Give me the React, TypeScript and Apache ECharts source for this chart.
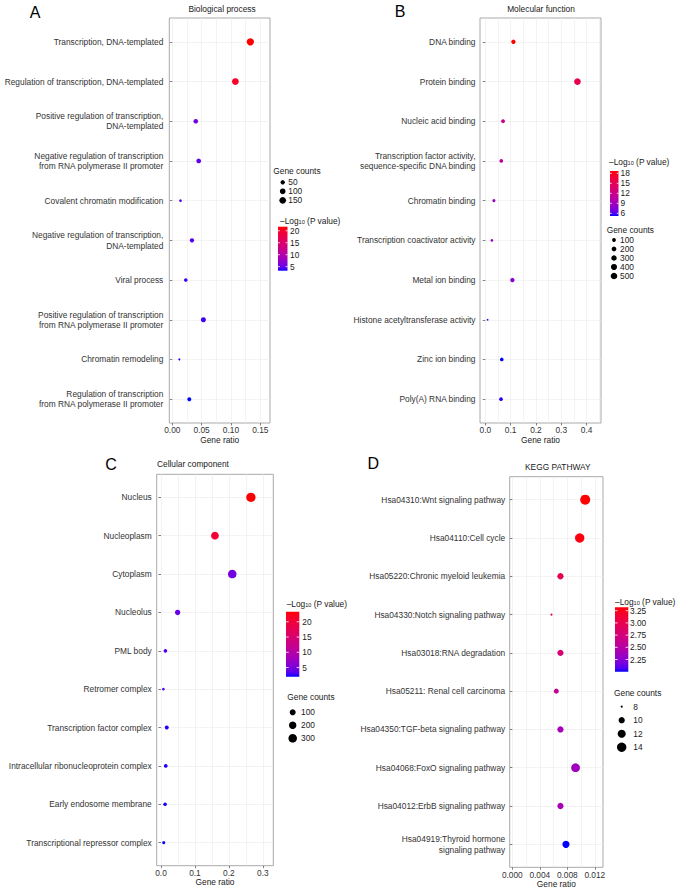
import React, { useEffect, useRef } from 'react';
import * as echarts from 'echarts';

const FONT = "'Liberation Sans', Arial, Helvetica, sans-serif";
const FS = 8.35;

// ---------- Panel A: Biological process ----------
const bpTerms = [
  'Transcription, DNA-templated',
  'Regulation of transcription, DNA-templated',
  'Positive regulation of transcription,\nDNA-templated',
  'Negative regulation of transcription\nfrom RNA polymerase II promoter',
  'Covalent chromatin modification',
  'Negative regulation of transcription,\nDNA-templated',
  'Viral process',
  'Positive regulation of transcription\nfrom RNA polymerase II promoter',
  'Chromatin remodeling',
  'Regulation of transcription\nfrom RNA polymerase II promoter',
];
const bpRatio = [0.133, 0.1075, 0.04, 0.045, 0.014, 0.0335, 0.023, 0.053, 0.012, 0.029];
const bpCount = [189, 153, 57, 64, 20, 48, 33, 75, 17, 41];
const bpLogP = [21.7, 19.9, 5.6, 4.9, 4.7, 4.4, 4.0, 4.0, 4.0, 3.3];
const bpTicks = [0, 0.05, 0.1, 0.15];
const bpMinor = [0.025, 0.075, 0.125];
const bpSizeBreaks = [50, 100, 150];
const bpColorBreaks = [20, 15, 10, 5];

// ---------- Panel B: Molecular function ----------
const mfTerms = [
  'DNA binding',
  'Protein binding',
  'Nucleic acid binding',
  'Transcription factor activity,\nsequence-specific DNA binding',
  'Chromatin binding',
  'Transcription coactivator activity',
  'Metal ion binding',
  'Histone acetyltransferase activity',
  'Zinc ion binding',
  'Poly(A) RNA binding',
];
const mfRatio = [0.111, 0.364, 0.07, 0.063, 0.034, 0.026, 0.107, 0.009, 0.065, 0.062];
const mfCount = [157, 517, 99, 89, 48, 37, 152, 13, 92, 88];
const mfLogP = [18.7, 15.3, 11.9, 10.6, 8.7, 8.6, 7.6, 5.6, 5.2, 5.35];
const mfTicks = [0, 0.1, 0.2, 0.3, 0.4];
const mfMinor = [0.05, 0.15, 0.25, 0.35, 0.45];
const mfSizeBreaks = [100, 200, 300, 400, 500];
const mfColorBreaks = [18, 15, 12, 9, 6];

// ---------- Panel C: Cellular component ----------
const ccTerms = [
  'Nucleus',
  'Nucleoplasm',
  'Cytoplasm',
  'Nucleolus',
  'PML body',
  'Retromer complex',
  'Transcription factor complex',
  'Intracellular ribonucleoprotein complex',
  'Early endosome membrane',
  'Transcriptional repressor complex',
];
const ccRatio = [0.265, 0.159, 0.21, 0.049, 0.013, 0.007, 0.017, 0.014, 0.012, 0.008];
const ccCount = [376, 226, 298, 70, 18, 10, 24, 20, 17, 11];
const ccLogP = [23.3, 20.1, 4.6, 4.1, 3.5, 3.3, 2.2, 2.2, 2.15, 2.0];
const ccTicks = [0, 0.1, 0.2, 0.3];
const ccMinor = [0.05, 0.15, 0.25];
const ccSizeBreaks = [100, 200, 300];
const ccColorBreaks = [20, 15, 10, 5];

// ---------- Panel D: KEGG pathway ----------
const kgTerms = [
  'Hsa04310:Wnt signaling pathway',
  'Hsa04110:Cell cycle',
  'Hsa05220:Chronic myeloid leukemia',
  'Hsa04330:Notch signaling pathway',
  'Hsa03018:RNA degradation',
  'Hsa05211: Renal cell carcinoma',
  'Hsa04350:TGF-beta signaling pathway',
  'Hsa04068:FoxO signaling pathway',
  'Hsa04012:ErbB signaling pathway',
  'Hsa04919:Thyroid hormone\nsignaling pathway',
];
const kgRatio = [0.0106, 0.0098, 0.007, 0.0057, 0.007, 0.0064, 0.007, 0.0092, 0.007, 0.0078];
const kgCount = [15, 14, 10, 8, 10, 9, 10, 13, 10, 11];
const kgLogP = [3.32, 3.28, 2.95, 2.9, 2.79, 2.6, 2.4, 2.36, 2.4, 2.0];
const kgTicks = [0, 0.004, 0.008, 0.012];
const kgMinor = [0.002, 0.006, 0.01];
const kgSizeBreaks = [8, 10, 12, 14];
const kgColorBreaks = [3.25, 3.0, 2.75, 2.5, 2.25];

// ---------- colour: Lab interpolation blue -> red (like ggplot) ----------
function toLin(c: number) { c /= 255; return c <= 0.04045 ? c / 12.92 : Math.pow((c + 0.055) / 1.055, 2.4); }
function fromLin(c: number) {
  const v = c <= 0.0031308 ? 12.92 * c : 1.055 * Math.pow(c, 1 / 2.4) - 0.055;
  return Math.round(Math.max(0, Math.min(1, v)) * 255);
}
function rgbToLab(rgb: number[]) {
  const R = toLin(rgb[0]), G = toLin(rgb[1]), B = toLin(rgb[2]);
  const X = (0.4124564 * R + 0.3575761 * G + 0.1804375 * B) / 0.95047;
  const Y = 0.2126729 * R + 0.7151522 * G + 0.072175 * B;
  const Z = (0.0193339 * R + 0.119192 * G + 0.9503041 * B) / 1.08883;
  const f = (t: number) => (t > 0.008856 ? Math.cbrt(t) : 7.787 * t + 16 / 116);
  return [116 * f(Y) - 16, 500 * (f(X) - f(Y)), 200 * (f(Y) - f(Z))];
}
function labToRgb(lab: number[]) {
  const fy = (lab[0] + 16) / 116, fx = fy + lab[1] / 500, fz = fy - lab[2] / 200;
  const inv = (t: number) => (t * t * t > 0.008856 ? t * t * t : (t - 16 / 116) / 7.787);
  const X = inv(fx) * 0.95047, Y = inv(fy), Z = inv(fz) * 1.08883;
  const R = 3.2404542 * X - 1.5371385 * Y - 0.4985314 * Z;
  const G = -0.969266 * X + 1.8760108 * Y + 0.041556 * Z;
  const B = 0.0556434 * X - 0.2040259 * Y + 1.0572252 * Z;
  return `rgb(${fromLin(R)},${fromLin(G)},${fromLin(B)})`;
}
const LAB_LOW = rgbToLab([0, 0, 255]);
const LAB_HIGH = rgbToLab([255, 0, 0]);
function gradColor(t: number) {
  t = Math.max(0, Math.min(1, t));
  return labToRgb([0, 1, 2].map((k) => LAB_LOW[k] + (LAB_HIGH[k] - LAB_LOW[k]) * t));
}

const panels = [
  {
    terms: bpTerms, ratio: bpRatio, count: bpCount, logp: bpLogP, ticks: bpTicks, minor: bpMinor,
    sizeBreaks: bpSizeBreaks, colorBreaks: bpColorBreaks, xDec: 2, cDec: 0,
    title: 'Biological process', letter: 'A',
    L: {
      left: 169.3, top: 18, width: 100.7, height: 405, xMin: -0.0051, xMax: 0.1665, labelMargin: 6,
      titleX: 222, titleY: 9, titleAlign: 'center', letterX: 35, letterY: 12,
      rmin: 2, rmax: 7.3,
      size: { tx: 273.3, ty: 171, dx: 282.7, y0: 182.3, step: 9, lx: 288.3 },
      col: { tx: 280, ty: 219.3, bx: 278, bw: 9.5, bt: 226.7, bb: 270.7, lx: 290 },
    },
  },
  {
    terms: mfTerms, ratio: mfRatio, count: mfCount, logp: mfLogP, ticks: mfTicks, minor: mfMinor,
    sizeBreaks: mfSizeBreaks, colorBreaks: mfColorBreaks, xDec: 1, cDec: 0,
    title: 'Molecular function', letter: 'B',
    L: {
      left: 480, top: 18, width: 121, height: 405, xMin: -0.021, xMax: 0.457, labelMargin: 4.5,
      titleX: 541, titleY: 9, titleAlign: 'center', letterX: 400, letterY: 11,
      rmin: 1.7, rmax: 6.7,
      size: { tx: 606.7, ty: 230, dx: 614, y0: 240, step: 9, lx: 620 },
      col: { tx: 609, ty: 160.7, bx: 610, bw: 8.5, bt: 171, bb: 216, lx: 620.5 },
    },
  },
  {
    terms: ccTerms, ratio: ccRatio, count: ccCount, logp: ccLogP, ticks: ccTicks, minor: ccMinor,
    sizeBreaks: ccSizeBreaks, colorBreaks: ccColorBreaks, xDec: 1, cDec: 0,
    title: 'Cellular component', letter: 'C',
    L: {
      left: 156.7, top: 474.3, width: 116.6, height: 391.4, xMin: -0.0127, xMax: 0.331, labelMargin: 5,
      titleX: 157, titleY: 464.3, titleAlign: 'left', letterX: 111, letterY: 464,
      rmin: 2.7, rmax: 9.3,
      size: { tx: 287.3, ty: 697, dx: 292.7, y0: 712.3, step: 13, lx: 301 },
      col: { tx: 286.7, ty: 602.3, bx: 286, bw: 13.3, bt: 611.7, bb: 676.7, lx: 302.3 },
    },
  },
  {
    terms: kgTerms, ratio: kgRatio, count: kgCount, logp: kgLogP, ticks: kgTicks, minor: kgMinor,
    sizeBreaks: kgSizeBreaks, colorBreaks: kgColorBreaks, xDec: 3, cDec: 2,
    title: 'KEGG PATHWAY', letter: 'D',
    L: {
      left: 509.7, top: 476.7, width: 93.3, height: 390.6, xMin: -0.00038, xMax: 0.01319, labelMargin: 4.5,
      titleX: 557.8, titleY: 467.3, titleAlign: 'center', letterX: 373.3, letterY: 463,
      rmin: 2, rmax: 10,
      size: { tx: 614, ty: 693.3, dx: 621.7, y0: 706.7, step: 13.5, lx: 633.3 },
      col: { tx: 615, ty: 600, bx: 615, bw: 13.3, bt: 607.3, bb: 671.7, lx: 630 },
    },
  },
];

function txt(x: number, y: number, text: string, align: string, size = FS, color = '#1a1a1a') {
  return {
    type: 'text', x, y, silent: true,
    style: {
      text, fill: color, font: `${size}px ${FONT}`, fontSize: size, fontFamily: FONT,
      textAlign: align, align, textVerticalAlign: 'middle', verticalAlign: 'middle',
    },
  };
}

function buildOption() {
  const grid: any[] = [];
  const xAxis: any[] = [];
  const yAxis: any[] = [];
  const series: any[] = [];
  const graphic: any[] = [];
  const gridLine = { color: '#ebebeb', width: 0.6 };
  const tickStyle = { color: '#4d4d4d', width: 0.7 };

  panels.forEach((p, gi) => {
    const L = p.L;
    const n = p.terms.length;
    const idx = p.terms.map((_, i) => i);
    const cmin = Math.min(...p.count), cmax = Math.max(...p.count);
    const sz = (c: number) => L.rmin + (L.rmax - L.rmin) * Math.sqrt(Math.max(0, (c - cmin) / (cmax - cmin)));
    const vmin = Math.min(...p.logp), vmax = Math.max(...p.logp);
    const col = (v: number) => gradColor((v - vmin) / (vmax - vmin));

    grid.push({
      left: L.left, top: L.top, width: L.width, height: L.height,
      show: true, borderColor: '#a9a9a9', borderWidth: 1, backgroundColor: '#fff',
      containLabel: false, outerBoundsMode: 'none',
    });
    // gridline axis (major + minor vertical lines)
    xAxis.push({
      type: 'value', gridIndex: gi, position: 'top', min: L.xMin, max: L.xMax,
      axisLine: { show: false },
      axisTick: { show: false, customValues: [...p.ticks, ...p.minor] },
      axisLabel: { show: false, customValues: [...p.ticks, ...p.minor] },
      splitLine: { show: true, lineStyle: gridLine },
    });
    // label axis
    xAxis.push({
      type: 'value', gridIndex: gi, position: 'bottom', min: L.xMin, max: L.xMax,
      name: 'Gene ratio', nameLocation: 'middle', nameGap: 12.5, nameMoveOverlap: false,
      nameTextStyle: { fontSize: FS, fontFamily: FONT, color: '#1a1a1a' },
      axisLine: { show: false },
      axisTick: { show: true, length: 2.5, lineStyle: tickStyle, customValues: p.ticks },
      axisLabel: {
        customValues: p.ticks, margin: 3.3, fontSize: FS, fontFamily: FONT, color: '#333',
        formatter: (v: number) => v.toFixed(p.xDec),
      },
      splitLine: { show: false },
    });
    yAxis.push({
      type: 'value', gridIndex: gi, min: -0.6, max: n - 1 + 0.6, inverse: true,
      axisLine: { show: false },
      axisTick: { show: true, length: 2.5, lineStyle: tickStyle, customValues: idx },
      axisLabel: {
        customValues: idx, margin: L.labelMargin, fontSize: FS, fontFamily: FONT, color: '#333', lineHeight: 10.5,
        align: 'right', formatter: (v: number) => p.terms[Math.round(v)] ?? '',
      },
      splitLine: { show: true, lineStyle: gridLine },
    });
    series.push({
      type: 'scatter', xAxisIndex: gi * 2 + 1, yAxisIndex: gi, symbol: 'circle',
      data: p.terms.map((t, i) => ({
        name: t, value: [p.ratio[i], i], symbolSize: sz(p.count[i]),
        itemStyle: { color: col(p.logp[i]), opacity: 1 },
      })),
    });

    // letter + title
    graphic.push(txt(L.letterX, L.letterY, p.letter, 'center', 16, '#000'));
    graphic.push(txt(L.titleX, L.titleY, p.title, L.titleAlign));

    // size legend
    graphic.push(txt(L.size.tx, L.size.ty, 'Gene counts', 'left'));
    p.sizeBreaks.forEach((b, k) => {
      const yy = L.size.y0 + k * L.size.step;
      graphic.push({ type: 'circle', silent: true, shape: { cx: L.size.dx, cy: yy, r: sz(b) / 2 }, style: { fill: '#000' } });
      graphic.push(txt(L.size.lx, yy, String(b), 'left'));
    });

    // colour legend
    const C = L.col;
    graphic.push({
      type: 'text', x: C.tx, y: C.ty, silent: true,
      style: {
        text: '{a|–Log}{b|10}{a| (P value)}', textVerticalAlign: 'middle', verticalAlign: 'middle',
        rich: {
          a: { fontSize: FS, fontFamily: FONT, fill: '#1a1a1a', color: '#1a1a1a', lineHeight: 11, verticalAlign: 'bottom' },
          b: { fontSize: 5.6, fontFamily: FONT, fill: '#1a1a1a', color: '#1a1a1a', lineHeight: 6, verticalAlign: 'bottom' },
        },
      },
    });
    const stops = [];
    for (let i = 0; i <= 24; i++) stops.push({ offset: i / 24, color: gradColor(i / 24) });
    graphic.push({
      type: 'rect', silent: true,
      shape: { x: C.bx, y: C.bt, width: C.bw, height: C.bb - C.bt },
      style: { fill: { type: 'linear', x: 0, y: 1, x2: 0, y2: 0, colorStops: stops } },
    });
    p.colorBreaks.forEach((b) => {
      const yy = C.bb - ((b - vmin) / (vmax - vmin)) * (C.bb - C.bt);
      graphic.push({ type: 'line', silent: true, shape: { x1: C.bx, y1: yy, x2: C.bx + C.bw * 0.2, y2: yy }, style: { stroke: '#fff', lineWidth: 0.8 } });
      graphic.push({ type: 'line', silent: true, shape: { x1: C.bx + C.bw * 0.8, y1: yy, x2: C.bx + C.bw, y2: yy }, style: { stroke: '#fff', lineWidth: 0.8 } });
      graphic.push(txt(C.lx, yy, b.toFixed(p.cDec), 'left'));
    });
  });

  return {
    animation: false,
    backgroundColor: '#fff',
    textStyle: { fontFamily: FONT },
    grid, xAxis, yAxis, series, graphic,
  };
}

export default function App() {
  const ref = useRef<HTMLDivElement>(null);
  useEffect(() => {
    const chart = echarts.init(ref.current!, null, { renderer: 'svg' });
    chart.setOption(buildOption() as any);
    return () => chart.dispose();
  }, []);
  return (
    <div
      ref={ref}
      style={{ position: 'absolute', left: 0, top: 0, width: 677, height: 892, background: '#fff' }}
    />
  );
}
